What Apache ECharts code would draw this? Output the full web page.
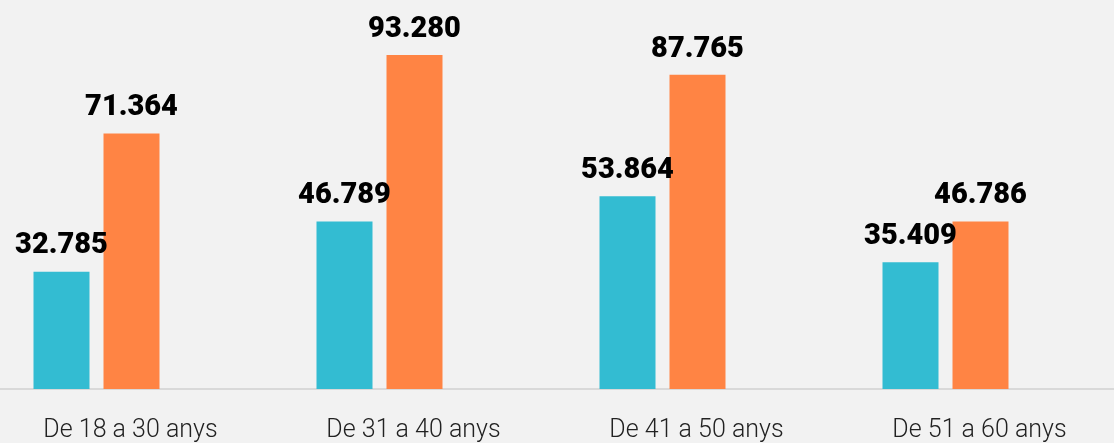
<!DOCTYPE html>
<html>
<head>
<meta charset="utf-8">
<script src="https://cdn.jsdelivr.net/npm/echarts@6/dist/echarts.min.js"></script>
<style>
  html, body { margin: 0; padding: 0; background: #f2f2f2; }
  #chart { width: 1114px; height: 443px; }
</style>
</head>
<body>
<div id="chart"></div>
<script>
const categories = ['De 18 a 30 anys', 'De 31 a 40 anys', 'De 41 a 50 anys', 'De 51 a 60 anys']
const seriesA = [32785, 46789, 53864, 35409]
const seriesB = [71364, 93280, 87765, 46786]

// thousands separator with dot, as in the original
function fmt(v) {
  return String(v).replace(/\B(?=(\d{3})+(?!\d))/g, '.')
}

const labelStyle = {
  show: true,
  position: 'top',
  distance: 11,
  fontFamily: 'Roboto',
  fontWeight: 900,
  fontSize: 29,
  color: '#000',
  formatter: p => fmt(p.value)
}

const chart = echarts.init(document.getElementById('chart'))
chart.setOption({
  backgroundColor: '#f2f2f2',
  animation: false,
  grid: [
    {
      left: -45,
      width: 1132,
      top: 31,
      bottom: 54,
      containLabel: false,
      outerBoundsMode: 'none'
    },
    // full-width grid only used to draw the baseline edge to edge
    {
      left: 0,
      right: 0,
      top: 31,
      bottom: 54,
      containLabel: false,
      outerBoundsMode: 'none'
    }
  ],
  xAxis: [
    {
      type: 'category',
      gridIndex: 0,
      data: categories,
      axisLine: { show: false },
      axisTick: { show: false },
      axisLabel: {
        interval: 0,
        margin: 29,
        padding: [0, 0, 0, 68],
        fontFamily: 'Roboto',
        fontWeight: 300,
        fontSize: 25,
        color: '#222'
      }
    },
    {
      type: 'value',
      gridIndex: 1,
      axisLine: { show: true, lineStyle: { color: '#d9d9d9', width: 2 } },
      axisTick: { show: false },
      axisLabel: { show: false },
      splitLine: { show: false }
    }
  ],
  yAxis: [
    {
      type: 'value',
      gridIndex: 0,
      min: 0,
      max: 100000,
      show: false,
      splitLine: { show: false }
    },
    {
      type: 'value',
      gridIndex: 1,
      show: false,
      splitLine: { show: false }
    }
  ],
  series: [
    {
      type: 'bar',
      data: seriesA,
      barWidth: 56,
      barGap: '25%',
      itemStyle: { color: '#33bcd2' },
      label: labelStyle,
      z: 3
    },
    {
      type: 'bar',
      data: seriesB,
      barWidth: 56,
      barGap: '25%',
      itemStyle: { color: '#ff8444' },
      label: labelStyle,
      z: 3
    }
  ]
})
</script>
</body>
</html>
